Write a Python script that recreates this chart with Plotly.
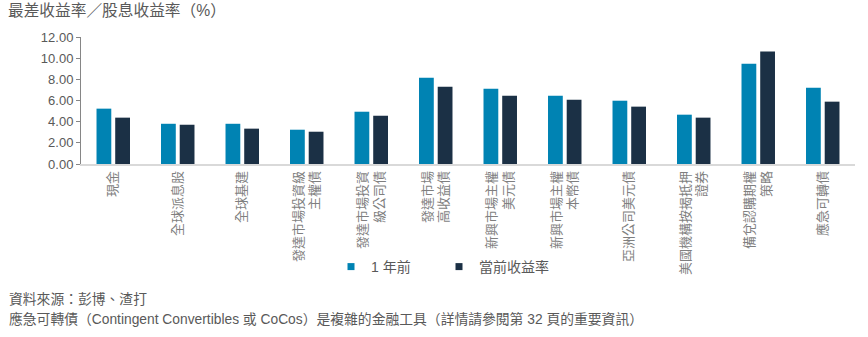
import plotly.graph_objects as go

categories = [
    "現金", "全球派息股", "全球基建", "發達市場投資級<br>主權債",
    "發達市場投資<br>級公司債", "發達市場<br>高收益債", "新興市場主權<br>美元債",
    "新興市場主權<br>本幣債", "亞洲公司美元債", "美國機構按揭抵押<br>證券",
    "備兌認購期權<br>策略", "應急可轉債",
]
year_ago = [5.23, 3.80, 3.80, 3.24, 4.94, 8.16, 7.12, 6.46, 5.98, 4.66, 9.48, 7.21]
current = [4.38, 3.71, 3.34, 3.05, 4.56, 7.31, 6.46, 6.08, 5.42, 4.38, 10.62, 5.89]
series_names = ["1 年前", "當前收益率"]
colors = ["#0083B3", "#1B3045"]
y_ticks = [0, 2, 4, 6, 8, 10, 12]

FONT = "Arial, 'Liberation Sans', 'Noto Sans CJK TC', sans-serif"
W, H = 868, 337
L, R, T, B = 81, 13, 37, 173
pw, ph = W - L - R, H - T - B

def px_x(x):
    return (x - L) / pw

def px_y(y):
    return (H - B - y) / ph

fig = go.Figure()
for name, vals, col in zip(series_names, [year_ago, current], colors):
    fig.add_trace(go.Bar(x=categories, y=vals, name=name, marker_color=col,
                         marker_line_width=0, showlegend=False))

# legend entries with small square markers
for i, (name, col) in enumerate(zip(series_names, colors)):
    fig.add_trace(go.Scatter(x=[None], y=[None], mode="markers", name=name,
                             marker=dict(symbol="square", size=7, color=col),
                             legend="legend" if i == 0 else "legend2"))

legend_common = dict(orientation="h", yanchor="middle", xanchor="left",
                     font=dict(family=FONT, size=14, color="#595959"),
                     bgcolor="rgba(0,0,0,0)", itemwidth=30)

fig.update_layout(
    width=W, height=H,
    margin=dict(l=L, r=R, t=T, b=B, pad=0),
    paper_bgcolor="white", plot_bgcolor="white",
    barmode="group", bargap=0.42, bargroupgap=0.21,
    font=dict(family=FONT, color="#595959"),
    title=dict(text="最差收益率／股息收益率（%）", x=8 / W, xref="container", xanchor="left",
               y=1 - 11 / H, yref="container", yanchor="middle",
               font=dict(family=FONT, size=15.7, color="#595959")),
    legend=dict(x=px_x(331), y=px_y(267), **legend_common),
    legend2=dict(x=px_x(439), y=px_y(267), **legend_common),
    xaxis=dict(tickangle=-90, tickfont=dict(family=FONT, size=13, color="#7F7F7F"),
               showline=True, linecolor="#D9D9D9", linewidth=1.5, ticks="",
               showgrid=False, zeroline=False),
    yaxis=dict(range=[0, 12], tickvals=y_ticks, tickformat=".2f",
               tickfont=dict(family=FONT, size=13, color="#595959"),
               showline=True, linecolor="#868686", linewidth=1,
               ticks="outside", ticklen=4, tickcolor="#868686",
               showgrid=False, zeroline=False),
    annotations=[
        dict(text="資料來源：彭博、渣打", xref="paper", yref="paper",
             x=px_x(7), y=px_y(299), xanchor="left", yanchor="middle", showarrow=False,
             font=dict(family=FONT, size=13.8, color="#595959")),
        dict(text="應急可轉債（Contingent Convertibles 或 CoCos）是複雜的金融工具（詳情請參閱第 32 頁的重要資訊）",
             xref="paper", yref="paper",
             x=px_x(7), y=px_y(319), xanchor="left", yanchor="middle", showarrow=False,
             font=dict(family=FONT, size=13.8, color="#595959")),
    ],
)

fig.write_html("out.html", config={"displayModeBar": False})
